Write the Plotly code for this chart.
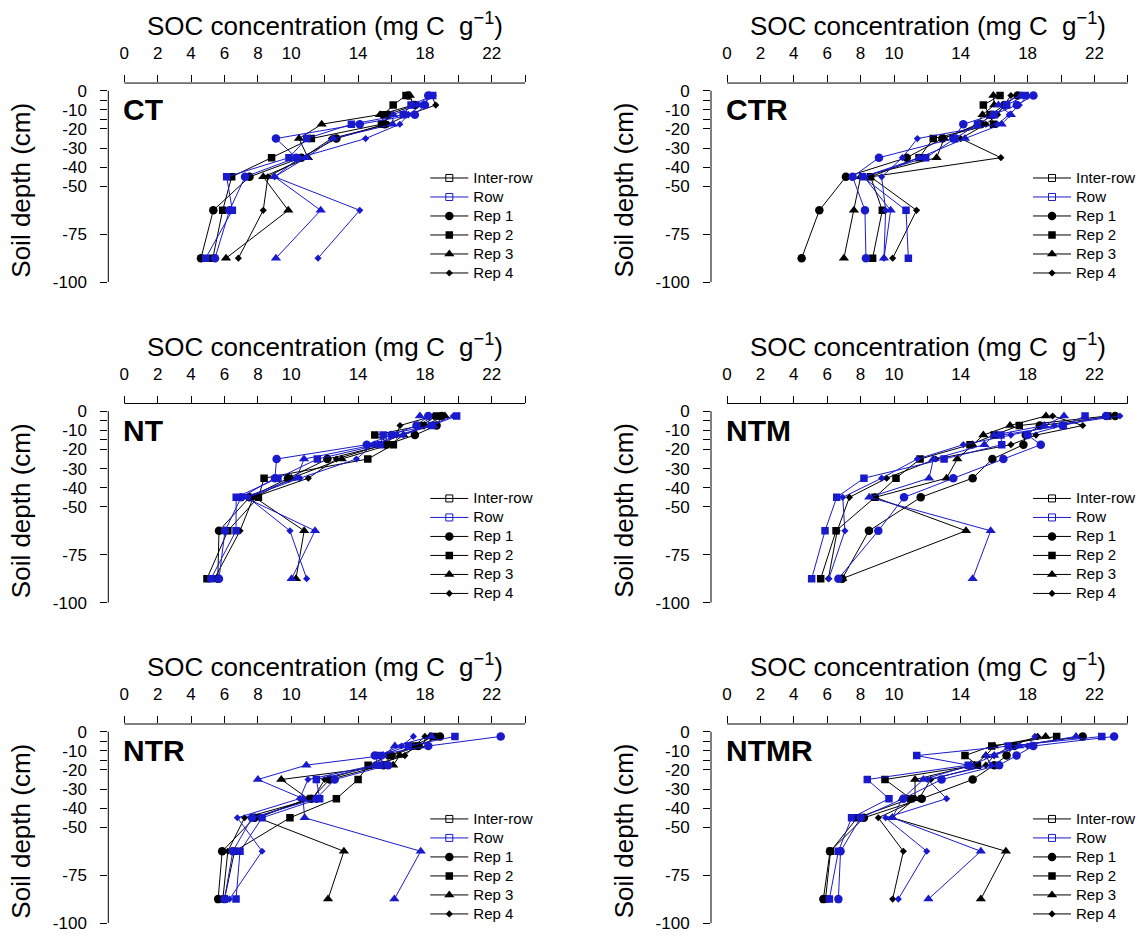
import plotly.graph_objects as go

W, H = 1143, 938

# Sampling depths (layer mid-points, cm)
depth = [-2.5, -7.5, -12.5, -17.5, -25, -35, -45, -62.5, -87.5]

x_ticks = [0, 2, 4, 6, 8, 10, 14, 18, 22]
x_tick_labels = ["0", "2", "4", "6", "8", "10", "14", "18", "22"]
x_minor_ticks = [12, 16, 20, 24]
y_ticks = [0, -10, -20, -30, -40, -50, -75, -100]
y_tick_labels = ["0", "-10", "-20", "-30", "-40", "-50", "-75", "-100"]
y_minor_ticks = [-5, -15]

treatments = ["CT", "CTR", "NT", "NTM", "NTR", "NTMR"]
reps = ["Rep 1", "Rep 2", "Rep 3", "Rep 4"]

# SOC concentration (mg C g-1) by depth; each list holds Rep 1 .. Rep 4
ct_inter = [
    [17.0, 17.4, 15.8, 15.6, 12.7, 10.6, 7.5, 5.33, 4.59],
    [16.87, 16.1, 15.55, 15.4, 11.2, 8.82, 6.43, 5.89, 5.3],
    [17.1, 17.3, 15.31, 11.82, 10.46, 11.0, 8.32, 9.82, 6.09],
    [18.4, 18.65, 17.0, 15.8, 12.4, 10.7, 8.6, 8.32, 6.83],
]
ct_row = [
    [18.2, 18.0, 17.4, 14.1, 9.08, 10.3, 7.23, 6.3, 5.43],
    [18.47, 17.17, 16.7, 13.6, 10.92, 9.86, 6.13, 6.47, 4.87],
    [18.3, 17.6, 16.1, 16.07, 12.5, 10.9, 9.0, 11.76, 9.08],
    [18.5, 17.8, 17.0, 16.5, 14.45, 10.5, 9.0, 14.1, 11.6],
]
ctr_inter = [
    [17.4, 16.6, 15.8, 15.2, 12.9, 10.76, 7.12, 5.53, 4.47],
    [16.35, 15.35, 15.75, 15.96, 12.35, 11.5, 8.6, 9.3, 8.72],
    [15.95, 16.0, 15.3, 15.0, 13.0, 12.55, 8.0, 7.6, 7.0],
    [17.0, 16.6, 16.2, 15.5, 14.0, 16.4, 8.6, 11.35, 9.92],
]
ctr_row = [
    [18.35, 17.35, 15.95, 14.15, 13.55, 9.1, 7.52, 8.26, 8.32],
    [17.85, 16.75, 16.0, 15.0, 13.65, 11.9, 8.12, 10.72, 10.86],
    [17.6, 16.25, 17.0, 16.45, 14.25, 11.5, 8.2, 9.8, 9.4],
    [18.0, 17.5, 16.9, 16.2, 11.4, 10.5, 9.26, 9.5, 9.4],
]
nt_inter = [
    [19.0, 18.7, 17.4, 15.68, 12.16, 9.8, 7.5, 5.67, 5.6],
    [18.7, 17.8, 15.0, 16.11, 14.58, 8.37, 8.03, 6.2, 4.95],
    [19.2, 18.0, 16.71, 15.9, 13.02, 10.0, 7.8, 10.77, 10.28],
    [18.5, 16.51, 16.3, 15.5, 12.7, 11.02, 7.73, 6.93, 5.4],
]
nt_row = [
    [18.2, 17.5, 16.0, 14.52, 9.12, 9.02, 7.0, 6.03, 5.67],
    [19.9, 18.4, 15.5, 15.31, 11.56, 9.2, 6.7, 6.69, 5.19],
    [17.7, 18.5, 16.3, 15.0, 10.76, 10.32, 7.2, 11.42, 10.02],
    [19.7, 18.3, 16.7, 14.9, 13.9, 10.52, 7.4, 9.92, 10.92],
]
ntm_inter = [
    [23.24, 18.73, 17.89, 17.75, 15.89, 14.71, 11.6, 8.5, 6.9],
    [22.8, 17.5, 16.0, 14.55, 11.56, 10.12, 8.86, 6.53, 5.61],
    [19.1, 16.95, 15.35, 14.7, 13.79, 13.15, 8.86, 14.31, 6.9],
    [19.5, 21.3, 18.5, 17.0, 12.5, 9.56, 7.33, 6.6, 6.07],
]
ntm_row = [
    [22.7, 20.1, 18.0, 18.79, 16.55, 13.55, 10.6, 9.06, 6.67],
    [21.44, 20.14, 16.4, 16.45, 13.0, 8.2, 6.57, 5.87, 5.07],
    [20.18, 19.0, 16.0, 15.41, 12.36, 12.1, 8.52, 15.79, 14.71],
    [23.53, 19.6, 17.0, 14.15, 11.4, 9.26, 6.93, 7.06, 6.1],
]
ntr_inter = [
    [18.9, 17.6, 16.0, 15.5, 12.3, 11.2, 7.8, 5.86, 5.62],
    [18.5, 17.3, 15.9, 14.6, 14.0, 12.7, 9.92, 6.6, 6.0],
    [18.3, 17.7, 16.5, 16.1, 9.4, 11.0, 8.0, 13.15, 12.2],
    [18.0, 17.4, 16.8, 15.0, 12.0, 11.3, 7.2, 6.2, 5.9],
]
ntr_row = [
    [22.54, 18.2, 15.0, 15.8, 12.6, 11.5, 7.65, 6.5, 6.0],
    [19.8, 17.0, 15.3, 15.3, 11.5, 11.7, 8.25, 6.93, 6.69],
    [18.4, 16.2, 15.5, 10.9, 8.0, 10.7, 10.8, 17.75, 16.17],
    [17.31, 16.6, 15.2, 15.0, 11.0, 10.5, 6.77, 8.25, 6.3],
]
ntmr_inter = [
    [21.3, 17.2, 16.74, 16.0, 14.71, 11.66, 8.2, 6.17, 5.77],
    [19.74, 15.85, 14.25, 15.0, 9.46, 11.0, 7.8, 6.2, 5.9],
    [19.08, 16.0, 15.5, 14.8, 11.26, 11.26, 9.9, 16.7, 15.2],
    [18.6, 17.0, 16.0, 15.5, 12.2, 11.5, 9.06, 10.56, 9.92],
]
ntmr_row = [
    [23.18, 18.34, 17.34, 16.3, 12.85, 10.56, 8.0, 6.8, 6.67],
    [22.44, 16.84, 11.36, 14.45, 8.4, 9.7, 7.46, 6.67, 6.13],
    [20.9, 17.5, 16.0, 14.6, 11.76, 10.5, 9.9, 15.2, 12.06],
    [18.44, 18.0, 15.5, 15.8, 12.0, 13.15, 9.5, 11.96, 10.26],
]

panel_data = {
    "CT": (ct_inter, ct_row),
    "CTR": (ctr_inter, ctr_row),
    "NT": (nt_inter, nt_row),
    "NTM": (ntm_inter, ntm_row),
    "NTR": (ntr_inter, ntr_row),
    "NTMR": (ntmr_inter, ntmr_row),
}

FONT = "Liberation Sans, Arial, sans-serif"
BLACK = "#000000"
BLUE = "#1a1acd"
rep_symbols = ["circle", "square", "triangle-up", "diamond"]
rep_sizes = [8.5, 7.5, 9, 5.5]

# Pixel geometry of the 3 x 2 grid
PX_PER_UNIT = 16.7           # x: px per mg C g-1
PX_PER_CM = 1.92             # y: px per cm
col_zero = [124.3, 727.0]    # px position of x = 0 in each column
col_left = [108.3, 711.0]    # left edge of plot area
col_right = [541.0, 1143.0]  # right edge of plot area
row_zero = [90.0, 411.5, 733.0]  # px position of depth 0 in each row
Y_TOP, Y_BOTTOM = 4.0, -104.0


def paper_x(px):
    return px / W


def paper_y(py):
    return 1 - py / H


def legend_label(text):
    # legend row height follows the legend font size; the label itself is larger
    return f'<span style="font-size:15px">{text}</span>'


fig = go.Figure()
layout = dict(
    width=W, height=H,
    margin=dict(l=0, r=0, t=0, b=0),
    paper_bgcolor="white", plot_bgcolor="white",
    font=dict(family=FONT, color=BLACK),
    showlegend=True,
)
shapes, annotations = [], []

tick_style = dict(ticks="outside", ticklen=7, tickwidth=1, tickcolor=BLACK)

for i, name in enumerate(treatments):
    r, c = divmod(i, 2)
    n = i + 1
    sfx = "" if n == 1 else str(n)
    xa, ya = f"x{sfx}", f"y{sfx}"

    x_range = [(col_left[c] - col_zero[c]) / PX_PER_UNIT,
               (col_right[c] - col_zero[c]) / PX_PER_UNIT]
    top_px = row_zero[r] - Y_TOP * PX_PER_CM
    bot_px = row_zero[r] - Y_BOTTOM * PX_PER_CM

    layout[f"xaxis{sfx}"] = dict(
        domain=[paper_x(col_left[c]), paper_x(col_right[c])],
        range=x_range, anchor=ya, side="top",
        tickmode="array", tickvals=x_ticks, ticktext=x_tick_labels,
        minor=dict(tickmode="array", tickvals=x_minor_ticks, **tick_style),
        ticklabelstandoff=9,
        tickfont=dict(size=17, family=FONT, color=BLACK),
        showline=False, showgrid=False, zeroline=False, fixedrange=True,
        **tick_style,
    )
    layout[f"yaxis{sfx}"] = dict(
        domain=[paper_y(bot_px), paper_y(top_px)],
        range=[Y_BOTTOM, Y_TOP], anchor=xa,
        tickmode="array", tickvals=y_ticks, ticktext=y_tick_labels,
        minor=dict(tickmode="array", tickvals=y_minor_ticks, **tick_style),
        ticklabelstandoff=10,
        tickfont=dict(size=17, family=FONT, color=BLACK),
        showline=False, showgrid=False, zeroline=False, fixedrange=True,
        **tick_style,
    )

    # axis lines spanning only the ticked range
    shapes.append(dict(type="line", xref=xa, yref=f"{ya} domain",
                       x0=0, x1=x_minor_ticks[-1], y0=1, y1=1,
                       line=dict(color=BLACK, width=1)))
    shapes.append(dict(type="line", xref=f"{xa} domain", yref=ya,
                       x0=0, x1=0, y0=y_ticks[0], y1=y_ticks[-1],
                       line=dict(color=BLACK, width=1)))

    inter, row = panel_data[name]
    for pos_vals, color in ((inter, BLACK), (row, BLUE)):
        for k, vals in enumerate(pos_vals):
            fig.add_trace(go.Scatter(
                x=vals, y=depth, xaxis=xa, yaxis=ya,
                mode="lines+markers", showlegend=False,
                line=dict(color=color, width=1),
                marker=dict(symbol=rep_symbols[k], size=rep_sizes[k],
                            color=color, line=dict(width=0)),
                hoverinfo="skip",
            ))

    # legend for this panel
    lg = "legend" if n == 1 else f"legend{n}"
    entries = [
        ("Inter-row", BLACK, "square-open", 7),
        ("Row", BLUE, "square-open", 7),
    ] + [(reps[k], BLACK, rep_symbols[k], rep_sizes[k]) for k in range(4)]
    for label, color, sym, size in entries:
        fig.add_trace(go.Scatter(
            x=[None], y=[None], xaxis=xa, yaxis=ya, name=legend_label(label),
            mode="lines+markers", legend=lg,
            line=dict(color=color, width=1),
            marker=dict(symbol=sym, size=size, color=color,
                        line=dict(width=1, color=color) if "open" in sym else dict(width=0)),
        ))
    layout[lg] = dict(
        x=paper_x(col_zero[c] + 301), y=paper_y(row_zero[r] + 73),
        xanchor="left", yanchor="top",
        bgcolor="rgba(0,0,0,0)", borderwidth=0,
        font=dict(size=12, family=FONT, color=BLACK),
        itemwidth=38, tracegroupgap=0,
    )

    # panel label
    annotations.append(dict(
        text=f"<b>{name}</b>", xref="paper", yref="paper",
        x=paper_x(col_zero[c] - 3), y=paper_y(row_zero[r] + 19),
        xanchor="left", yanchor="middle", showarrow=False,
        font=dict(size=30, family=FONT, color=BLACK),
    ))
    # axis titles
    annotations.append(dict(
        text="SOC concentration (mg C  g<sup>\u22121</sup>)",
        xref="paper", yref="paper",
        x=paper_x(col_zero[c] + 201), y=paper_y(row_zero[r] - 66),
        xanchor="center", yanchor="middle", showarrow=False,
        font=dict(size=26, family=FONT, color=BLACK),
    ))
    annotations.append(dict(
        text="Soil depth (cm)", xref="paper", yref="paper",
        x=paper_x(col_zero[c] - 103), y=paper_y(row_zero[r] + 100),
        xanchor="center", yanchor="middle", textangle=-90, showarrow=False,
        font=dict(size=26, family=FONT, color=BLACK),
    ))

layout["shapes"] = shapes
layout["annotations"] = annotations
fig.update_layout(**layout)

fig.write_html("out.html")
